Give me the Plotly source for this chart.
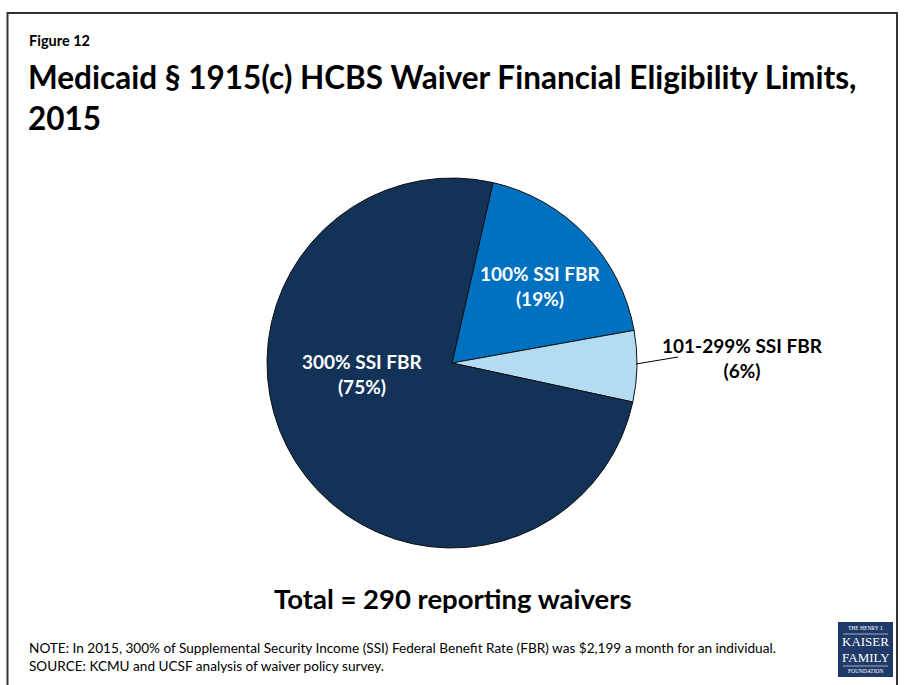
import plotly.graph_objects as go

W, H = 904, 685

categories = ["100% SSI FBR", "101-299% SSI FBR", "300% SSI FBR"]
waivers = [54, 18, 218]
colors = ["#0070C0", "#B3DCF3", "#133257"]

title_small = "Figure 12"
title_main = "Medicaid § 1915(c) HCBS Waiver Financial Eligibility Limits,<br>2015"
total_text = "Total = {} reporting waivers".format(sum(waivers))
note_text = "NOTE: In 2015, 300% of Supplemental Security Income (SSI) Federal Benefit Rate (FBR) was $2,199 a month for an individual."
source_text = "SOURCE: KCMU and UCSF analysis of waiver policy survey."

FONT = "Lato"


def px(x):
    return x / W


def py(y):
    return 1 - y / H


fig = go.Figure()
fig.add_trace(go.Pie(
    labels=categories,
    values=waivers,
    sort=False,
    direction="clockwise",
    rotation=12.8,
    marker=dict(colors=colors, line=dict(color="#111111", width=1)),
    textinfo="none",
    hoverinfo="label+percent",
    domain=dict(x=[px(267), px(637)], y=[py(548), py(178)]),
    showlegend=False,
))

total = sum(waivers)
pcts = [round(v / total * 100) for v in waivers]
label_pos = [(540, 286, "white"), (742, 358, "black"), (362, 374, "white")]
annotations = []
for cat, p, (lx, ly, c) in zip(categories, pcts, label_pos):
    annotations.append(dict(
        x=px(lx), y=py(ly), xref="paper", yref="paper",
        text="<b>{}</b><br><b>({}%)</b>".format(cat, p),
        showarrow=False, font=dict(family=FONT, size=19, color=c),
        xanchor="center", yanchor="middle", align="center",
    ))

annotations += [
    dict(x=px(27), y=py(41), xref="paper", yref="paper", text="<b>" + title_small + "</b>",
         showarrow=False, font=dict(family=FONT, size=14.5, color="black"),
         xanchor="left", yanchor="middle", align="left"),
    dict(x=px(26), y=py(97), xref="paper", yref="paper", text="<b>" + title_main.replace("<br>", "</b><br><b>") + "</b>",
         showarrow=False, font=dict(family=FONT, size=31.5, color="black"),
         xanchor="left", yanchor="middle", align="left"),
    dict(x=px(453), y=py(598), xref="paper", yref="paper", text="<b>" + total_text + "</b>",
         showarrow=False, font=dict(family=FONT, size=27.5, color="black"),
         xanchor="center", yanchor="middle"),
    dict(x=px(27), y=py(648), xref="paper", yref="paper", text=note_text,
         showarrow=False, font=dict(family=FONT, size=13.6, color="black"),
         xanchor="left", yanchor="middle", align="left"),
    dict(x=px(27), y=py(666), xref="paper", yref="paper", text=source_text,
         showarrow=False, font=dict(family=FONT, size=13.6, color="black"),
         xanchor="left", yanchor="middle", align="left"),
]

# logo
logo_lines = [("THE HENRY J.", 5.5, 628), ("KAISER", 13, 641), ("FAMILY", 13, 657), ("FOUNDATION", 5.5, 671)]
for t, s, y in logo_lines:
    annotations.append(dict(x=px(865.5), y=py(y), xref="paper", yref="paper", text=t,
                            showarrow=False, font=dict(family="Liberation Serif", size=s, color="white"),
                            xanchor="center", yanchor="middle"))

shapes = [
    dict(type="rect", xref="paper", yref="paper", x0=px(7.5), x1=px(897), y0=py(13), y1=py(690),
         line=dict(color="#333333", width=2), fillcolor="rgba(0,0,0,0)"),
    dict(type="line", xref="paper", yref="paper", x0=px(636), y0=py(364), x1=px(678), y1=py(357),
         line=dict(color="black", width=1)),
    dict(type="rect", xref="paper", yref="paper", x0=px(838), x1=px(893), y0=py(677), y1=py(622),
         line=dict(width=0), fillcolor="#1F3A68"),
    dict(type="line", xref="paper", yref="paper", x0=px(843), y0=py(634), x1=px(888), y1=py(634),
         line=dict(color="white", width=0.6)),
    dict(type="line", xref="paper", yref="paper", x0=px(843), y0=py(666), x1=px(888), y1=py(666),
         line=dict(color="white", width=0.6)),
]

fig.update_layout(
    width=W, height=H,
    margin=dict(l=0, r=0, t=0, b=0),
    paper_bgcolor="white", plot_bgcolor="white",
    annotations=annotations, shapes=shapes,
)

fig.write_html("out.html", config={"displayModeBar": False},
               post_script="document.body.style.margin='0';document.body.style.overflow='hidden';")
